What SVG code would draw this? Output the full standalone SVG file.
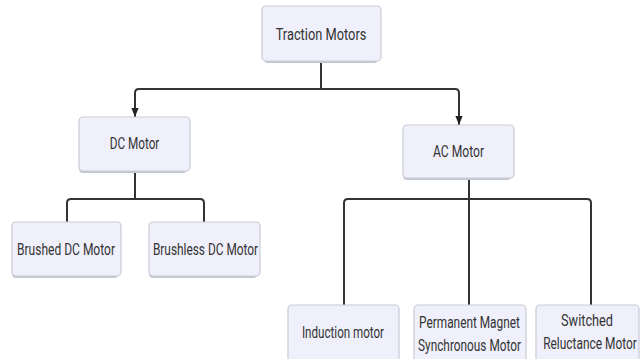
<svg xmlns="http://www.w3.org/2000/svg" width="641" height="359" viewBox="0 0 641 359">
<style>
.box{fill:#eff0fb;stroke:#c9cbd6;stroke-width:1.2}
.sh{fill:#c4c6d0}
.t{font-family:Roboto,"Liberation Sans",sans-serif;font-size:17px;fill:#333;text-anchor:middle}
.e{fill:none;stroke:#333;stroke-width:2}
</style>
<defs>
<marker id="a" viewBox="0 0 10 10" refX="10" refY="5" markerWidth="9" markerHeight="9" markerUnits="userSpaceOnUse" orient="auto">
<path d="M0,1 L10,5 L0,9 z" fill="#222"/>
</marker>
</defs>
<rect width="641" height="359" fill="#fff"/>
<g id="edges">
<path class="e" d="M321,61 V89"/>
<path class="e" d="M321,89 H139 Q135,89 135,93 V117" marker-end="url(#a)"/>
<path class="e" d="M321,89 H455 Q459,89 459,93 V125" marker-end="url(#a)"/>
<path class="e" d="M135,171 V199"/>
<path class="e" d="M135,199 H71 Q67,199 67,203 V222"/>
<path class="e" d="M135,199 H200 Q204,199 204,203 V222"/>
<path class="e" d="M469,178 V305"/>
<path class="e" d="M469,199 H348 Q344,199 344,203 V305"/>
<path class="e" d="M469,199 H587 Q591,199 591,203 V305"/>
</g>
<g id="traction">
<rect class="sh" x="264" y="8" width="114" height="55" rx="4"/>
<rect class="box" x="262" y="6" width="119" height="55" rx="4"/>
<text class="t" transform="translate(321,40) scale(0.72,1)" textLength="126" lengthAdjust="spacingAndGlyphs">Traction Motors</text>
</g>
<g id="dc">
<rect class="sh" x="79" y="119" width="108" height="54" rx="4"/>
<rect class="box" x="79" y="117" width="111" height="54" rx="4"/>
<text class="t" transform="translate(134.5,149) scale(0.72,1)" textLength="69" lengthAdjust="spacingAndGlyphs">DC Motor</text>
</g>
<g id="ac">
<rect class="sh" x="403" y="127" width="108" height="53" rx="4"/>
<rect class="box" x="403" y="125" width="111" height="53" rx="4"/>
<text class="t" transform="translate(458.5,157) scale(0.72,1)" textLength="71" lengthAdjust="spacingAndGlyphs">AC Motor</text>
</g>
<g id="brushed">
<rect class="sh" x="12" y="224" width="106" height="54" rx="4"/>
<rect class="box" x="12" y="222" width="109" height="54" rx="4"/>
<text class="t" transform="translate(66,255) scale(0.72,1)" textLength="136" lengthAdjust="spacingAndGlyphs">Brushed DC Motor</text>
</g>
<g id="brushless">
<rect class="sh" x="149" y="224" width="108" height="54" rx="4"/>
<rect class="box" x="149" y="222" width="111" height="54" rx="4"/>
<text class="t" transform="translate(205.5,255) scale(0.72,1)" textLength="146" lengthAdjust="spacingAndGlyphs">Brushless DC Motor</text>
</g>
<g id="induction">
<rect class="sh" x="288" y="307" width="108" height="56" rx="4"/>
<rect class="box" x="288" y="305" width="111" height="58" rx="4"/>
<text class="t" transform="translate(343,338) scale(0.72,1)" textLength="114" lengthAdjust="spacingAndGlyphs">Induction motor</text>
</g>
<g id="pmsm">
<rect class="sh" x="414" y="307" width="109" height="56" rx="4"/>
<rect class="box" x="414" y="305" width="112" height="58" rx="4"/>
<text class="t" transform="translate(469.5,328) scale(0.72,1)" textLength="140" lengthAdjust="spacingAndGlyphs">Permanent Magnet</text>
<text class="t" transform="translate(469.5,351) scale(0.72,1)" textLength="143" lengthAdjust="spacingAndGlyphs">Synchronous Motor</text>
</g>
<g id="srm">
<rect class="sh" x="536" y="307" width="100" height="56" rx="4"/>
<rect class="box" x="536" y="305" width="103" height="58" rx="4"/>
<text class="t" transform="translate(587,326) scale(0.72,1)" textLength="72" lengthAdjust="spacingAndGlyphs">Switched</text>
<text class="t" transform="translate(590,349) scale(0.72,1)" textLength="130" lengthAdjust="spacingAndGlyphs">Reluctance Motor</text>
</g>
</svg>
